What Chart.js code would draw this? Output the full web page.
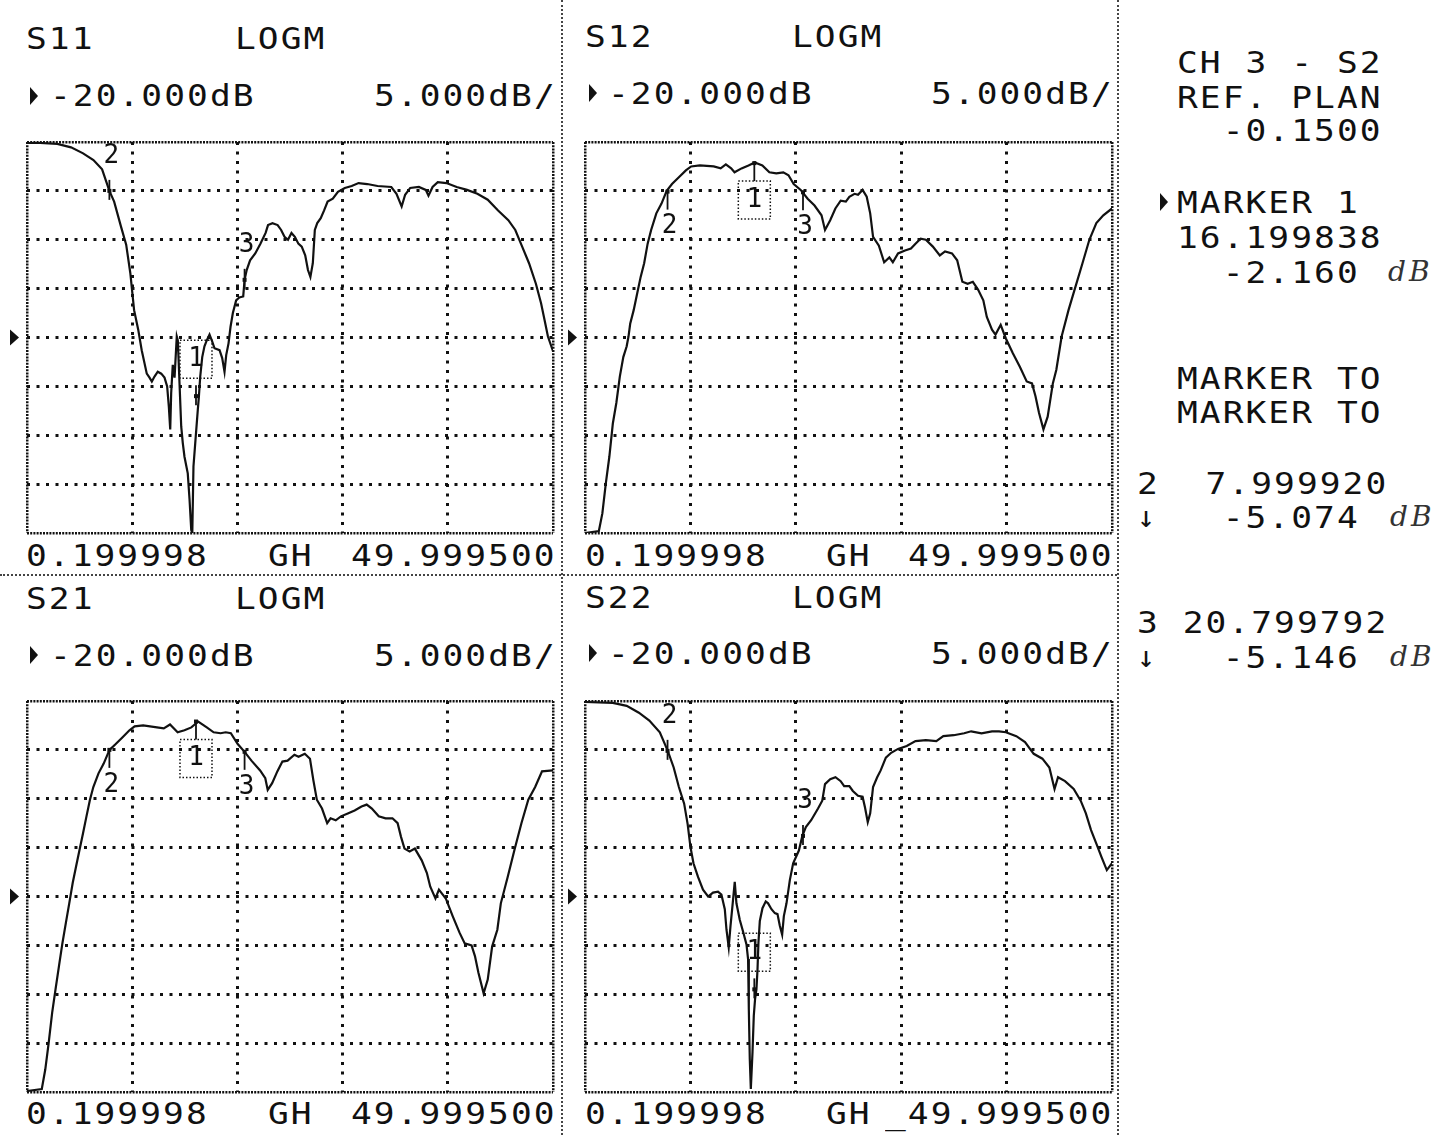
<!DOCTYPE html>
<html>
<head>
<meta charset="utf-8">
<title>S-parameter plot</title>
<script src="https://cdn.jsdelivr.net/npm/chart.js@4.4.1/dist/chart.umd.min.js"></script>
<style>
  body { margin: 0; background: #fff; }
  #page { position: relative; width: 1431px; height: 1135px; overflow: hidden; background: #fff; color: #111;
          font-family: "DejaVu Sans Mono", "Liberation Mono", monospace; }
  .t { position: absolute; font-size: 30px; line-height: 30px; letter-spacing: 1.8px; white-space: pre;
       transform: scaleX(1.15); transform-origin: 0 0; }
  .m { position: absolute; width: 0; height: 0; border-top: 9px solid transparent; border-bottom: 9px solid transparent; border-left: 8px solid #111; }
  .hand { position: absolute; font-family: "DejaVu Serif", serif; font-style: italic; font-size: 28px; line-height: 28px; letter-spacing: 3px; color: #333; }
  .arr { position: absolute; font-size: 30px; line-height: 30px; }
  .vdiv { position: absolute; top: 0; height: 1135px; border-left: 2px dotted #444; }
  .hdiv { position: absolute; left: 0; width: 1117px; border-top: 2px dotted #444; }
  canvas { position: absolute; }
</style>
</head>
<body>
<div id="page">
  <div class="vdiv" style="left:561px"></div>
  <div class="vdiv" style="left:1117px"></div>
  <div class="hdiv" style="top:574px"></div>

  <!-- S11 -->
  <div class="t" style="left:26px;top:24px">S11</div>
  <div class="t" style="left:235px;top:24px">LOGM</div>
  <div class="m" style="left:30px;top:87px"></div>
  <div class="t" style="left:50px;top:81px">-20.000dB</div>
  <div class="t" style="left:374px;top:81px">5.000dB/</div>
  <div class="t" style="left:26px;top:541px">0.199998</div>
  <div class="t" style="left:268px;top:541px">GH</div>
  <div class="t" style="left:351px;top:541px">49.999500</div>

  <!-- S12 -->
  <div class="t" style="left:585px;top:22px">S12</div>
  <div class="t" style="left:792px;top:22px">LOGM</div>
  <div class="m" style="left:589px;top:84px"></div>
  <div class="t" style="left:608px;top:79px">-20.000dB</div>
  <div class="t" style="left:931px;top:79px">5.000dB/</div>
  <div class="t" style="left:585px;top:541px">0.199998</div>
  <div class="t" style="left:826px;top:541px">GH</div>
  <div class="t" style="left:908px;top:541px">49.999500</div>

  <!-- S21 -->
  <div class="t" style="left:26px;top:584px">S21</div>
  <div class="t" style="left:235px;top:584px">LOGM</div>
  <div class="m" style="left:30px;top:646px"></div>
  <div class="t" style="left:50px;top:641px">-20.000dB</div>
  <div class="t" style="left:374px;top:641px">5.000dB/</div>
  <div class="t" style="left:26px;top:1099px">0.199998</div>
  <div class="t" style="left:268px;top:1099px">GH</div>
  <div class="t" style="left:351px;top:1099px">49.999500</div>

  <!-- S22 -->
  <div class="t" style="left:585px;top:583px">S22</div>
  <div class="t" style="left:792px;top:583px">LOGM</div>
  <div class="m" style="left:589px;top:644px"></div>
  <div class="t" style="left:608px;top:639px">-20.000dB</div>
  <div class="t" style="left:931px;top:639px">5.000dB/</div>
  <div class="t" style="left:585px;top:1099px">0.199998</div>
  <div class="t" style="left:826px;top:1099px">GH</div>
  <div class="t" style="left:885px;top:1099px">_49.999500</div>

  <!-- channel / marker readout -->
  <div class="t" style="left:1177px;top:48px">CH 3 - S2</div>
  <div class="t" style="left:1177px;top:83px">REF. PLAN</div>
  <div class="t" style="left:1177px;top:116px">  -0.1500</div>
  <div class="m" style="left:1160px;top:193px"></div>
  <div class="t" style="left:1177px;top:188px">MARKER 1</div>
  <div class="t" style="left:1177px;top:223px">16.199838</div>
  <div class="t" style="left:1177px;top:258px">  -2.160</div>
  <div class="hand" style="left:1388px;top:258px">dB</div>
  <div class="t" style="left:1177px;top:364px">MARKER TO</div>
  <div class="t" style="left:1177px;top:398px">MARKER TO</div>
  <div class="t" style="left:1137px;top:469px">2  7.999920</div>
  <div class="arr" style="left:1137px;top:502px">↓</div>
  <div class="t" style="left:1177px;top:503px">  -5.074</div>
  <div class="hand" style="left:1390px;top:503px">dB</div>
  <div class="t" style="left:1137px;top:608px">3 20.799792</div>
  <div class="arr" style="left:1137px;top:642px">↓</div>
  <div class="t" style="left:1177px;top:643px">  -5.146</div>
  <div class="hand" style="left:1390px;top:643px">dB</div>

  <canvas id="s11" width="556" height="411" style="left:7px;top:132px"></canvas>
  <canvas id="s12" width="557" height="411" style="left:565px;top:132px"></canvas>
  <canvas id="s21" width="556" height="411" style="left:7px;top:691px"></canvas>
  <canvas id="s22" width="557" height="411" style="left:565px;top:691px"></canvas>
</div>

<script>
// sweep and display settings from the plot headers
const F_START = 0.199998;
const F_STOP = 49.9995;
const REF_LEVEL = -20;
const DB_PER_DIV = 5;
const DIVS_X = 5;
const DIVS_Y = 8;

// marker frequencies (GHz): 1, 2, 3
const markerFreq = [16.199838, 7.99992, 20.799792];

// S11 trace (GHz / dB)
const s11Freq = [
  0.2, 1.44, 3.07, 4.37, 5.51, 6.49, 7.31, 8.0, 8.45, 9.1,
  9.59, 9.98, 10.34, 10.73, 11.06, 11.54, 11.8, 12.02, 12.27, 12.58,
  12.91, 13.22, 13.47, 13.63, 13.76, 13.85, 14.0, 14.17, 14.38, 14.48,
  14.64, 14.8, 14.95, 15.11, 15.42, 15.59, 15.75, 15.85, 15.96, 16.15,
  16.37, 16.47, 16.6, 16.79, 17.0, 17.22, 17.48, 17.73, 17.95, 18.43,
  18.68, 18.9, 19.06, 19.28, 19.47, 19.69, 20.0, 20.3, 20.67, 20.8,
  21.0, 21.32, 21.81, 22.3, 22.79, 23.02, 23.44, 23.93, 24.26, 24.58,
  24.91, 25.24, 25.56, 25.89, 26.21, 26.54, 26.8, 27.03, 27.26, 27.45,
  27.68, 28.01, 28.33, 28.66, 29.15, 29.64, 30.29, 30.94, 31.59, 32.41,
  33.39, 34.69, 35.18, 35.67, 36.0, 36.48, 37.3, 37.95, 38.21, 38.6,
  39.09, 39.91, 40.88, 41.86, 42.84, 43.82, 44.8, 45.77, 46.43, 47.08,
  47.73, 48.38, 48.87, 49.2, 49.52, 50.0
];
const s11Db = [
  -0.1, -0.1, -0.2, -0.55, -1.16, -1.84, -2.8, -5.0, -6.1, -8.66,
  -10.5, -13.4, -17.2, -19.2, -21.3, -23.7, -24.1, -24.5, -24.0, -23.5,
  -23.7, -24.1, -25.0, -27.1, -29.4, -25.7, -22.8, -24.1, -19.9, -20.3,
  -24.7, -29.1, -30.8, -32.2, -33.9, -36.6, -39.7, -40.0, -33.2, -30.5,
  -27.4, -26.1, -24.0, -22.0, -20.9, -20.3, -19.7, -20.4, -21.1, -21.3,
  -22.1, -23.5, -21.8, -20.6, -18.9, -17.5, -16.2, -15.9, -15.8, -14.1,
  -13.1, -12.1, -11.4, -10.4, -9.3, -8.5, -8.3, -8.5, -9.0, -9.7,
  -10.0, -9.3, -9.7, -10.4, -10.7, -11.6, -13.1, -13.8, -12.4, -9.0,
  -8.3, -7.8, -7.0, -6.1, -5.8, -5.1, -4.7, -4.5, -4.2, -4.3,
  -4.5, -4.6, -5.3, -6.6, -5.4, -4.7, -4.6, -4.9, -5.5, -4.6,
  -4.1, -4.2, -4.6, -4.9, -5.3, -5.9, -7.0, -8.0, -9.0, -10.7,
  -12.4, -14.5, -16.5, -18.2, -19.9, -21.4
];

// S12 trace
const s12Freq = [
  0.2, 1.51, 1.84, 2.17, 2.5, 2.83, 3.16, 3.49, 3.82, 4.14,
  4.31, 4.47, 4.8, 5.13, 5.46, 5.79, 6.12, 6.45, 6.94, 7.43,
  7.92, 8.42, 9.07, 9.73, 10.23, 11.05, 12.36, 13.02, 13.51, 14.01,
  14.33, 14.99, 15.65, 16.24, 16.96, 17.62, 18.28, 18.94, 19.43, 19.92,
  20.58, 21.24, 21.89, 22.55, 22.88, 23.37, 23.86, 24.36, 24.85, 25.18,
  25.67, 26.0, 26.43, 26.82, 27.15, 27.42, 27.97, 28.47, 28.96, 29.29,
  29.78, 30.44, 31.0, 31.43, 31.92, 32.41, 33.07, 33.73, 34.22, 34.88,
  35.37, 35.86, 36.36, 36.85, 37.34, 37.84, 38.17, 38.66, 38.99, 39.48,
  39.97, 40.63, 41.29, 41.94, 42.44, 42.77, 43.1, 43.52, 43.92, 44.41,
  44.74, 45.24, 45.89, 46.55, 47.21, 47.86, 48.52, 49.18, 50.0
];
const s12Db = [
  -40.0, -39.8, -38.0, -34.9, -32.2, -28.8, -26.7, -24.0, -22.0, -20.9,
  -19.9, -18.6, -17.2, -15.5, -13.8, -12.4, -10.4, -9.0, -7.3, -6.3,
  -5.0, -4.3, -3.6, -2.9, -2.5, -2.4, -2.5, -2.7, -2.3, -2.7,
  -3.1, -2.7, -2.4, -2.1, -2.4, -3.1, -3.2, -3.1, -3.4, -4.3,
  -4.9, -5.8, -6.5, -7.5, -9.0, -8.0, -6.8, -6.0, -6.1, -5.6,
  -5.3, -5.4, -4.9, -5.6, -7.3, -9.7, -10.6, -12.3, -11.8, -12.3,
  -11.4, -11.1, -10.9, -10.4, -9.9, -10.0, -10.7, -11.6, -11.2, -11.4,
  -12.1, -14.3, -14.5, -14.3, -15.1, -16.2, -17.9, -19.2, -19.7, -18.7,
  -20.1, -21.6, -23.0, -24.5, -24.7, -26.0, -27.7, -29.4, -28.1, -24.7,
  -23.3, -19.9, -17.2, -14.8, -12.4, -10.0, -8.3, -7.5, -6.8
];

// S21 trace
const s21Freq = [
  0.2, 1.6, 1.93, 2.25, 2.58, 2.9, 3.23, 3.55, 3.88, 4.2,
  4.53, 4.85, 5.18, 5.51, 5.83, 6.16, 6.48, 6.97, 7.46, 8.01,
  8.6, 9.25, 9.9, 10.39, 11.2, 12.5, 13.15, 13.74, 14.46, 15.11,
  15.76, 16.41, 17.22, 17.87, 18.53, 19.01, 19.5, 20.15, 20.8, 21.45,
  22.27, 22.76, 22.99, 23.41, 23.9, 24.38, 24.87, 25.52, 25.91, 26.5,
  26.99, 27.31, 27.64, 28.13, 28.62, 28.94, 29.43, 29.92, 30.57, 31.22,
  31.87, 32.36, 32.85, 33.5, 34.15, 34.8, 35.29, 35.61, 35.94, 36.43,
  36.92, 37.57, 38.06, 38.38, 38.87, 39.2, 39.85, 40.5, 41.15, 41.64,
  42.29, 42.61, 42.94, 43.43, 43.82, 44.24, 44.73, 45.06, 45.71, 46.36,
  47.01, 47.66, 48.31, 48.96, 50.0
];
const s21Db = [
  -39.9, -39.7, -37.7, -35.0, -31.9, -29.5, -27.1, -24.8, -22.7, -20.7,
  -18.6, -16.9, -15.2, -13.5, -11.8, -10.1, -8.8, -7.4, -6.4, -5.0,
  -4.4, -3.7, -3.0, -2.6, -2.5, -2.7, -2.8, -2.4, -3.2, -3.0,
  -2.7, -2.1, -2.7, -3.2, -3.3, -3.2, -3.3, -4.4, -5.2, -6.1,
  -7.1, -7.9, -9.1, -8.4, -7.2, -6.2, -6.1, -5.5, -5.7, -5.4,
  -5.9, -8.1, -10.1, -11.0, -12.5, -12.0, -12.2, -11.8, -11.5, -11.2,
  -10.8, -10.6, -11.0, -11.8, -12.0, -12.0, -12.5, -13.9, -15.1, -15.4,
  -15.1, -16.3, -17.6, -19.0, -20.2, -19.3, -20.2, -22.0, -23.7, -24.8,
  -25.0, -26.1, -27.8, -29.9, -28.5, -25.1, -23.4, -20.7, -18.0, -15.2,
  -12.5, -10.1, -8.8, -7.2, -7.1
];

// S22 trace
const s22Freq = [
  0.2, 2.83, 4.14, 5.29, 6.28, 7.27, 8.02, 8.58, 9.07, 9.57,
  9.9, 10.16, 10.45, 10.88, 11.35, 11.83, 12.3, 12.77, 13.09, 13.41,
  13.57, 13.78, 13.95, 14.13, 14.35, 14.51, 14.83, 15.14, 15.46, 15.61,
  15.68, 15.77, 15.87, 16.03, 16.15, 16.27, 16.4, 16.5, 16.59, 16.72,
  16.97, 17.28, 17.5, 17.82, 18.14, 18.39, 18.61, 18.83, 18.99, 19.24,
  19.56, 19.87, 20.41, 20.74, 21.07, 21.57, 22.22, 22.62, 22.88, 23.37,
  23.87, 24.36, 24.69, 25.18, 25.51, 26.0, 26.43, 26.66, 26.92, 27.15,
  27.42, 27.81, 28.14, 28.63, 29.13, 29.78, 30.6, 31.43, 32.41, 33.4,
  34.06, 35.04, 36.03, 36.69, 37.67, 38.66, 39.32, 39.97, 40.96, 41.78,
  42.6, 43.42, 44.08, 44.57, 44.9, 45.56, 46.38, 47.04, 47.53, 48.02,
  48.52, 49.02, 49.51, 50.0
];
const s22Db = [
  -0.1, -0.2, -0.5, -1.2, -2.0, -3.2, -5.1, -6.8, -8.8, -10.5,
  -12.6, -14.9, -16.6, -18.0, -19.3, -20.0, -19.6, -19.5, -19.8, -21.3,
  -23.4, -25.2, -23.0, -21.0, -18.5, -20.7, -22.4, -23.6, -24.9, -26.4,
  -31.5, -36.6, -39.7, -35.9, -32.2, -30.5, -29.5, -27.5, -24.7, -22.5,
  -21.2, -20.5, -20.7, -21.3, -21.7, -21.8, -23.0, -23.9, -22.0, -20.7,
  -18.3, -16.6, -15.3, -13.8, -12.9, -12.2, -11.0, -10.2, -8.5, -8.0,
  -7.8, -8.2, -8.7, -8.7, -9.2, -9.7, -9.8, -10.9, -12.4, -11.5,
  -8.8, -7.8, -7.1, -5.8, -5.3, -4.9, -4.6, -4.1, -4.0, -4.1,
  -3.6, -3.5, -3.3, -3.1, -3.3, -3.1, -3.1, -3.2, -3.6, -4.2,
  -5.4, -5.9, -6.8, -9.0, -7.8, -8.2, -9.0, -10.2, -11.5, -13.2,
  -14.6, -16.0, -17.3, -16.6
];

// trace level at markers 1, 2, 3 for each panel
const s11Mk = [-26.0, -5.0, -14.1];
const s12Mk = [-2.16, -5.074, -5.146];
const s21Mk = [-2.1, -5.0, -5.2];
const s22Mk = [-29.5, -5.1, -13.8];

const INK = '#111';

function pts(freq, db) {
  return freq.map((f, i) => ({ x: f, y: db[i] }));
}

// first and last tick are the frame of the graticule
const isEdge = c => c.index === 0 || c.index === c.scale.ticks.length - 1;

const gridOpts = {
  color: INK,
  lineWidth: c => isEdge(c) ? 2.5 : 3,
  drawTicks: false
};
const borderOpts = {
  display: false,
  dash: c => isEdge(c) ? [2, 1.2] : [3, 6.5]
};

// reference pointer and marker symbols
const vnaDecor = {
  id: 'vnaDecor',
  afterDatasetsDraw(chart, args, opts) {
    const { ctx, chartArea: a } = chart;
    const xs = chart.scales.x, ys = chart.scales.y;
    ctx.save();
    ctx.fillStyle = INK;
    ctx.strokeStyle = INK;

    const ry = ys.getPixelForValue(REF_LEVEL);
    ctx.beginPath();
    ctx.moveTo(a.left - 17, ry - 8);
    ctx.lineTo(a.left - 8, ry);
    ctx.lineTo(a.left - 17, ry + 8);
    ctx.closePath();
    ctx.fill();

    ctx.font = '26px "DejaVu Sans Mono"';
    ctx.textAlign = 'center';
    ctx.textBaseline = 'middle';
    const dir = opts.below ? 1 : -1;
    opts.values.forEach((v, i) => {
      const px = xs.getPixelForValue(markerFreq[i]);
      const py = ys.getPixelForValue(v);
      ctx.fillRect(px - 2, py - 2, 4, 4);
      ctx.lineWidth = 1.8;
      ctx.setLineDash([]);
      ctx.beginPath();
      if (opts.below) {
        ctx.moveTo(px, py);
        ctx.lineTo(px, py + 18);
      } else {
        ctx.moveTo(px, py - 11);
        ctx.lineTo(px, py + 9);
      }
      ctx.stroke();
      const ly = py + dir * (i === 0 ? 37 : 35);
      if (i === 0) {
        ctx.lineWidth = 1.5;
        ctx.setLineDash([1.5, 2]);
        ctx.strokeRect(px - 16, ly - 19, 32, 38);
        ctx.setLineDash([]);
      }
      ctx.fillText(String(i + 1), px + (i === 0 ? 0 : 2), ly);
    });
    ctx.restore();
  }
};

function makePanel(id, freq, db, mk, below) {
  new Chart(document.getElementById(id), {
    type: 'line',
    data: {
      datasets: [{
        data: pts(freq, db),
        borderColor: INK,
        borderWidth: 2.2,
        pointRadius: 0,
        tension: 0,
        fill: false
      }]
    },
    options: {
      responsive: false,
      animation: false,
      devicePixelRatio: 1,
      layout: { padding: { left: 20, right: 10, top: 10, bottom: 10 }, autoPadding: false },
      plugins: {
        legend: { display: false },
        tooltip: { enabled: false },
        vnaDecor: { values: mk, below: below }
      },
      scales: {
        x: {
          type: 'linear',
          min: F_START,
          max: F_STOP,
          afterBuildTicks: s => {
            s.ticks = Array.from({ length: DIVS_X + 1 }, (_, i) => ({ value: F_START + i * (F_STOP - F_START) / DIVS_X }));
          },
          ticks: { display: false },
          grid: gridOpts,
          border: borderOpts
        },
        y: {
          min: REF_LEVEL - DB_PER_DIV * DIVS_Y / 2,
          max: REF_LEVEL + DB_PER_DIV * DIVS_Y / 2,
          ticks: { display: false, stepSize: DB_PER_DIV },
          grid: gridOpts,
          border: borderOpts
        }
      }
    },
    plugins: [vnaDecor]
  });
}

makePanel('s11', s11Freq, s11Db, s11Mk, false);
makePanel('s12', s12Freq, s12Db, s12Mk, true);
makePanel('s21', s21Freq, s21Db, s21Mk, true);
makePanel('s22', s22Freq, s22Db, s22Mk, false);
</script>
</body>
</html>
